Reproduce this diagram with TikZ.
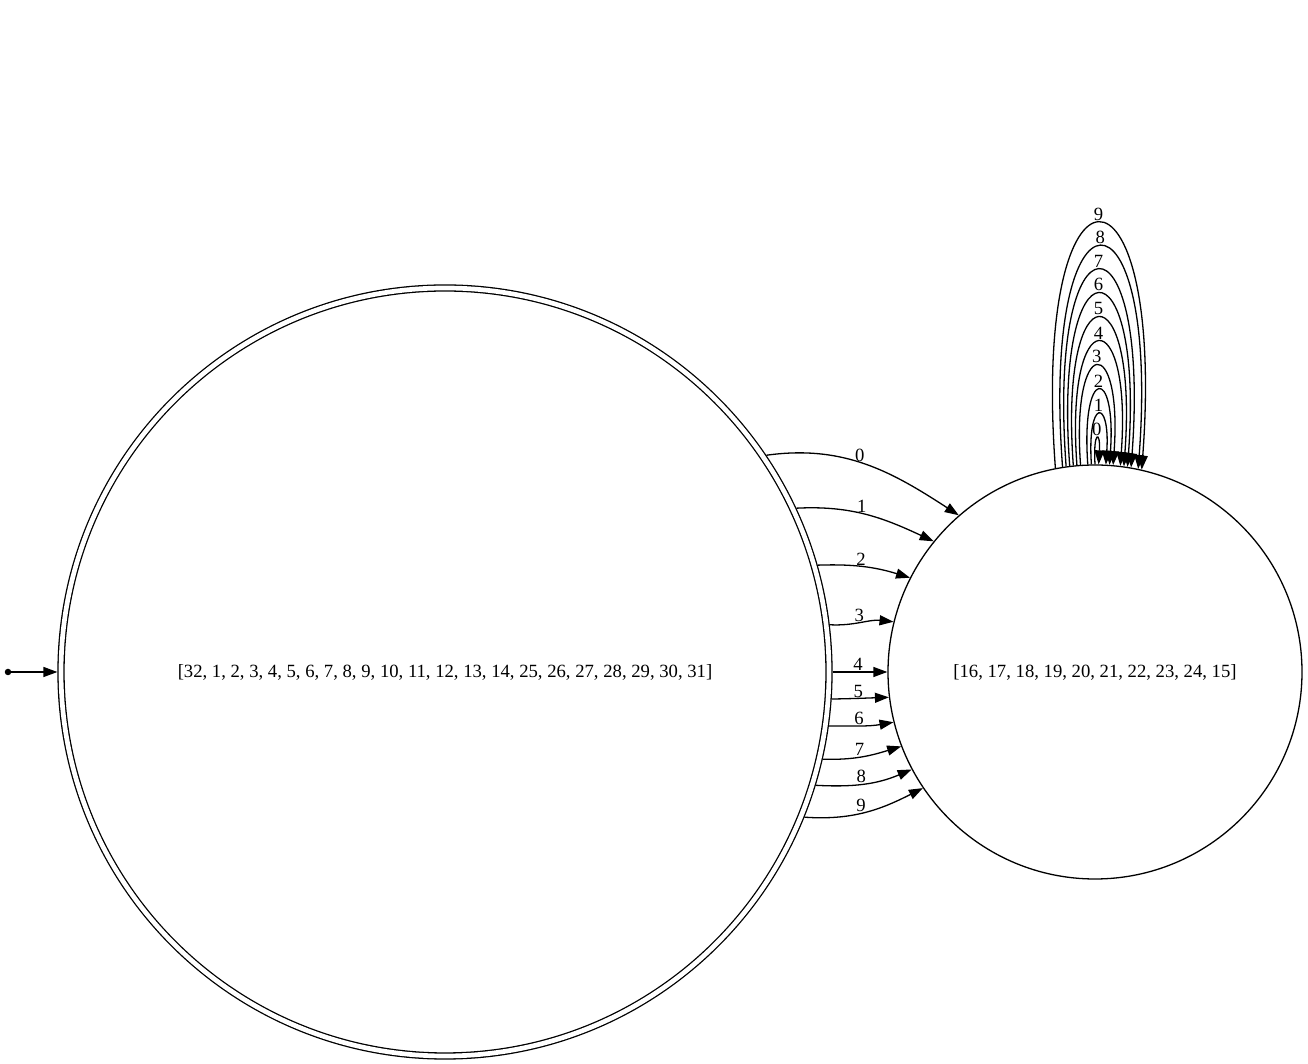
\documentclass[tikz,border=0pt]{standalone}
\usepackage{fontspec}
\setmainfont{Liberation Serif}
\usetikzlibrary{arrows.meta}

\begin{document}
\begin{tikzpicture}[x=1pt, y=1pt,
  every node/.style={font=\fontsize{18.67}{22}\selectfont},
  state/.style={draw, circle, line width=1.3pt, inner sep=0pt},
  accept/.style={state, double, double distance=4.7pt, outer sep=3.6pt},
  arr/.style={-{Triangle[length=14pt, width=10pt]}, line width=1.3pt},
  lbl/.style={above, inner sep=0.5pt}
]
  \useasboundingbox (0,0) rectangle (1308,1064);

  \node[accept, minimum size=768pt] (q0) at (445,392)
    {[32, 1, 2, 3, 4, 5, 6, 7, 8, 9, 10, 11, 12, 13, 14, 25, 26, 27, 28, 29, 30, 31]};
  \node[state, minimum size=414pt] (q1) at (1095,392)
    {[16, 17, 18, 19, 20, 21, 22, 23, 24, 15]};
  \node[circle, fill, inner sep=0pt, minimum size=6.5pt] (init) at (8,392) {};

  \draw[arr] (init) -- (q0.west);

  % edges q0 -> q1
  \foreach \k/\a/\b/\o/\i in {0/34.8/131.7/8/147, 1/25.5/141.6/3/155,
      2/16.5/153.9/2/163, 3/7.8/166.6/-3/174, 4/0/180/0/180, 5/-4.3/187.5/1/182,
      6/-8.6/194.2/0/190, 7/-13.1/201.5/-2/197, 8/-17.7/208.4/-3/203,
      9/-22.6/214.3/-4/207}
    \draw[arr] (q0.\a) to[out=\o, in=\i] node[lbl, pos=0.46] {\k} (q1.\b);

  % self loops on q1
  \foreach \k in {0,...,9}{
    \pgfmathsetmacro{\a}{90+(2+4.2*\k)/207*57.3}
    \pgfmathsetmacro{\b}{90-(3+4.7*\k)/207*57.3}
    \pgfmathsetmacro{\c}{34+32.6*\k}
    \pgfmathsetmacro{\s}{2+2.5*\k}
    \draw[arr] (q1.\a) .. controls +(-\s,\c) and +(\s,\c) ..
      node[lbl, inner sep=2.5pt, pos=0.5] {\k} (q1.\b);
  }
\end{tikzpicture}
\end{document}
